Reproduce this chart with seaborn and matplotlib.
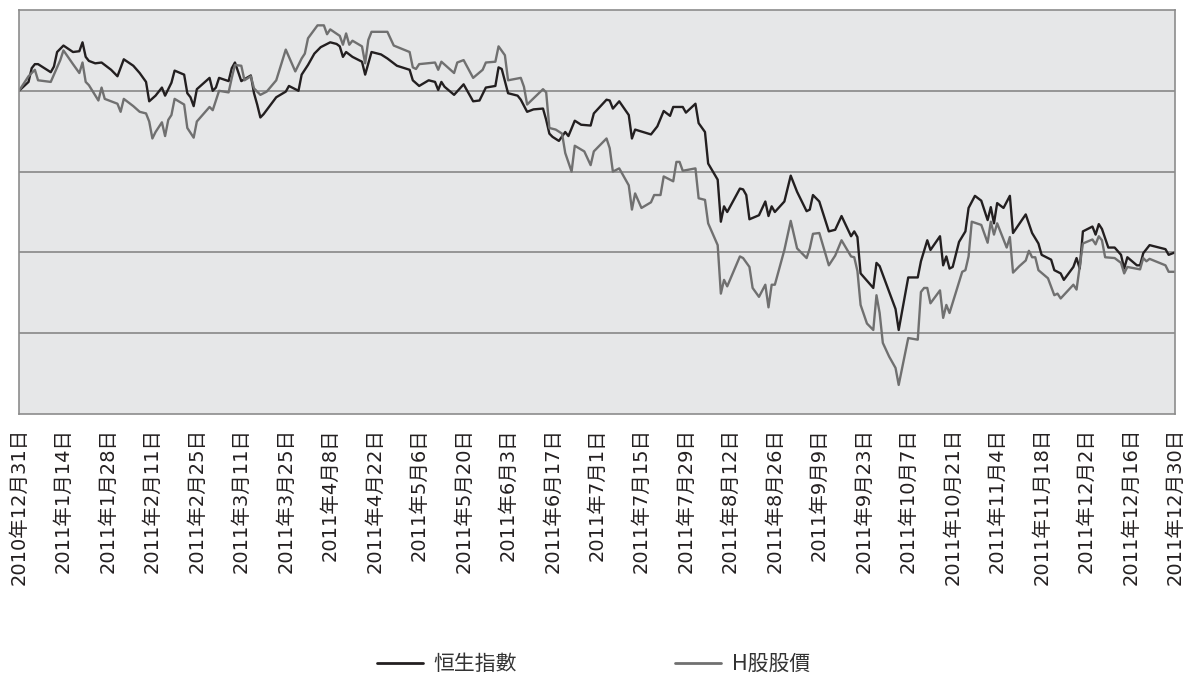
import matplotlib
matplotlib.use("Agg")
import matplotlib.pyplot as plt
from matplotlib.lines import Line2D
import seaborn as sns
import pandas as pd

# ---- data (index, 2010-12-31 = 100; x = calendar days since 2010-12-31) ----
hsi_days = [0, 3, 4, 5, 6, 10, 11, 12, 14, 17,
            19, 20, 21, 22, 24, 26, 29, 31, 33, 36,
            38, 40, 41, 43, 45, 46, 48, 49, 52, 53,
            54, 55, 56, 60, 61, 62, 63, 66, 67, 68,
            70, 73, 74, 75, 76, 77, 81, 84, 85, 88,
            89, 91, 93, 95, 96, 98, 100, 101, 102, 103,
            105, 108, 109, 111, 114, 116, 119, 123, 124, 126,
            129, 131, 132, 133, 134, 137, 140, 143, 145, 147,
            150, 151, 152, 154, 157, 158, 160, 162, 165, 166,
            167, 168, 170, 172, 173, 175, 177, 180, 181, 185,
            186, 187, 189, 192, 193, 194, 199, 201, 203, 205,
            206, 209, 210, 213, 214, 216, 217, 220, 221, 222,
            223, 227, 228, 229, 230, 233, 235, 236, 237, 238,
            241, 243, 245, 248, 249, 250, 252, 255, 257, 259,
            262, 263, 264, 265, 269, 270, 271, 276, 277, 280,
            283, 284, 286, 287, 290, 291, 292, 293, 294, 296,
            298, 299, 301, 303, 305, 306, 307, 308, 310, 312,
            313, 317, 319, 321, 322, 325, 326, 328, 329, 332,
            333, 334, 335, 338, 339, 340, 341, 343, 345, 347,
            348, 349, 352, 353, 354, 356, 361, 362, 364]
hsi_values = [100.0, 101.1, 102.8, 103.3, 103.3, 102.3, 103.0, 104.8, 105.6, 104.8,
              104.9, 106.0, 104.2, 103.7, 103.4, 103.5, 102.6, 101.8, 103.9, 103.1,
              102.2, 101.1, 98.7, 99.4, 100.4, 99.4, 101.0, 102.5, 102.0, 99.7,
              99.2, 98.1, 100.2, 101.6, 100.0, 100.4, 101.6, 101.2, 102.8, 103.5,
              101.2, 101.9, 99.7, 98.3, 96.7, 97.1, 99.2, 99.9, 100.6, 100.0,
              102.0, 103.2, 104.6, 105.4, 105.6, 106.0, 105.8, 105.5, 104.2, 104.8,
              104.2, 103.6, 102.0, 104.8, 104.5, 104.0, 103.1, 102.6, 101.3, 100.6,
              101.3, 101.1, 100.1, 101.1, 100.5, 99.5, 100.8, 98.7, 98.8, 100.4,
              100.6, 102.9, 102.7, 99.7, 99.4, 98.9, 97.4, 97.7, 97.8, 96.4,
              94.7, 94.3, 93.8, 94.9, 94.4, 96.3, 95.8, 95.7, 97.2, 98.9,
              98.8, 97.8, 98.7, 97.0, 94.1, 95.2, 94.6, 95.6, 97.5, 96.9,
              98.0, 98.0, 97.3, 98.4, 96.0, 94.9, 91.0, 89.0, 83.8, 85.7,
              85.0, 87.9, 87.8, 87.1, 84.1, 84.6, 86.3, 84.5, 85.7, 85.0,
              86.3, 89.5, 87.5, 85.1, 85.3, 87.1, 86.3, 82.6, 82.8, 84.5,
              82.0, 82.6, 81.9, 77.4, 75.6, 78.7, 78.3, 73.0, 70.4, 76.9,
              76.9, 78.9, 81.5, 80.3, 82.0, 78.4, 79.5, 78.0, 78.2, 81.3,
              82.6, 85.5, 87.0, 86.4, 84.0, 85.6, 83.6, 86.1, 85.5, 87.0,
              82.4, 84.7, 82.4, 81.1, 79.7, 79.1, 77.8, 77.4, 76.6, 78.2,
              79.3, 78.0, 82.6, 83.2, 82.2, 83.5, 82.9, 80.6, 80.6, 79.7,
              78.0, 79.4, 78.4, 78.4, 79.9, 80.9, 80.4, 79.7, 80.0]

hshare_days = [0, 3, 5, 6, 10, 11, 13, 14, 17, 19,
               20, 21, 22, 25, 26, 27, 31, 32, 33, 36,
               38, 40, 41, 42, 43, 45, 46, 47, 48, 49,
               52, 53, 55, 56, 60, 61, 62, 63, 66, 67,
               68, 70, 71, 73, 74, 76, 78, 81, 84, 87,
               89, 90, 91, 94, 96, 97, 98, 101, 102, 103,
               104, 105, 108, 109, 110, 111, 116, 118, 123, 124,
               125, 126, 131, 132, 133, 137, 138, 140, 143, 146,
               147, 150, 151, 153, 154, 158, 159, 160, 165, 166,
               167, 169, 171, 172, 174, 175, 178, 180, 181, 185,
               186, 187, 189, 192, 193, 194, 196, 199, 200, 202,
               203, 206, 207, 208, 209, 213, 214, 216, 217, 220,
               221, 222, 223, 227, 228, 230, 231, 233, 235, 236,
               237, 238, 241, 243, 245, 248, 249, 250, 252, 255,
               257, 259, 262, 263, 264, 265, 267, 269, 270, 271,
               272, 274, 276, 277, 280, 283, 284, 285, 286, 287,
               290, 291, 292, 293, 297, 298, 299, 300, 303, 305,
               306, 307, 308, 311, 312, 313, 315, 317, 318, 319,
               320, 321, 324, 326, 327, 328, 332, 333, 335, 338,
               339, 340, 341, 342, 345, 347, 348, 349, 353, 354,
               355, 356, 361, 362, 364]
hshare_values = [100.0, 101.8, 102.6, 101.3, 101.1, 102.0, 103.8, 105.0, 103.3, 102.2,
                 103.5, 101.1, 100.7, 98.8, 100.4, 99.0, 98.4, 97.4, 99.0, 98.1,
                 97.4, 97.2, 96.2, 94.1, 94.9, 96.1, 94.4, 96.4, 97.0, 99.0,
                 98.3, 95.4, 94.2, 96.2, 98.0, 97.6, 98.8, 100.0, 99.8, 101.6,
                 103.2, 103.1, 101.3, 101.8, 100.3, 99.5, 99.9, 101.3, 105.1, 102.4,
                 104.0, 104.6, 106.5, 108.1, 108.1, 107.0, 107.6, 106.8, 105.7, 107.1,
                 105.7, 106.2, 105.5, 103.4, 106.3, 107.3, 107.3, 105.6, 104.8, 102.9,
                 102.7, 103.3, 103.5, 102.6, 103.6, 102.2, 103.5, 103.8, 101.6, 102.6,
                 103.5, 103.6, 105.5, 104.4, 101.3, 101.6, 100.5, 98.3, 100.2, 99.8,
                 95.4, 95.2, 94.7, 92.3, 90.0, 93.2, 92.5, 90.8, 92.5, 94.1,
                 92.9, 90.0, 90.4, 88.3, 85.3, 87.3, 85.5, 86.2, 87.1, 87.1,
                 89.4, 88.8, 91.2, 91.2, 90.1, 90.4, 86.7, 86.5, 83.6, 80.9,
                 74.9, 76.6, 75.8, 79.5, 79.3, 78.2, 75.6, 74.5, 76.0, 73.2,
                 76.0, 76.0, 80.3, 83.9, 80.5, 79.3, 80.5, 82.3, 82.4, 78.4,
                 79.6, 81.5, 79.5, 79.4, 77.7, 73.5, 71.2, 70.4, 74.7, 72.5,
                 68.8, 67.1, 65.7, 63.6, 69.4, 69.2, 75.1, 75.6, 75.6, 73.7,
                 75.3, 71.9, 73.5, 72.5, 77.6, 77.8, 79.5, 83.8, 83.4, 81.2,
                 83.8, 82.2, 83.6, 80.6, 81.9, 77.5, 78.3, 79.0, 80.2, 79.4,
                 79.4, 77.8, 76.8, 74.7, 74.9, 74.3, 76.0, 75.4, 81.1, 81.6,
                 81.0, 82.0, 81.5, 79.4, 79.3, 78.7, 77.4, 78.2, 77.9, 79.3,
                 78.9, 79.2, 78.4, 77.6, 77.6]

series_names = ["恒生指數", "H股股價"]
tick_labels = ["2010年12月31日", "2011年1月14日", "2011年1月28日", "2011年2月11日",
               "2011年2月25日", "2011年3月11日", "2011年3月25日", "2011年4月8日",
               "2011年4月22日", "2011年5月6日", "2011年5月20日", "2011年6月3日",
               "2011年6月17日", "2011年7月1日", "2011年7月15日", "2011年7月29日",
               "2011年8月12日", "2011年8月26日", "2011年9月9日", "2011年9月23日",
               "2011年10月7日", "2011年10月21日", "2011年11月4日", "2011年11月18日",
               "2011年12月2日", "2011年12月16日", "2011年12月30日"]

# ---- style ----
sns.set_theme(style="white")
plt.rcParams['font.family'] = ['DejaVu Sans', 'Noto Sans CJK TC']

colors = {series_names[0]: "#231f20", series_names[1]: "#707070"}

df = pd.concat([
    pd.DataFrame({"day": hsi_days, "value": hsi_values, "series": series_names[0]}),
    pd.DataFrame({"day": hshare_days, "value": hshare_values, "series": series_names[1]}),
], ignore_index=True)

fig = plt.figure(figsize=(11.92, 6.8), dpi=100)
ax = fig.add_axes([19 / 1192, 1 - 414 / 680, (1175 - 19) / 1192, (414 - 10) / 680])
ax.set_facecolor("#e6e7e8")

sns.lineplot(data=df, x="day", y="value", hue="series", palette=colors,
             estimator=None, sort=False, linewidth=1.7, legend=False, ax=ax)

ax.set_xlim(0, 364)
ax.set_ylim(60, 110)
ax.set_yticks([70, 80, 90, 100])
ax.set_yticklabels([])
ax.tick_params(axis="y", length=0)
ax.yaxis.grid(True, color="#7f7f7f", linewidth=1.1)
ax.xaxis.grid(False)
ax.set_axisbelow(True)

ax.set_xticks([14 * i for i in range(len(tick_labels))])
ax.set_xticklabels(tick_labels, rotation=90, fontsize=14, color="#231f20")
ax.tick_params(axis="x", direction="in", length=5, width=1, color="#8c8c8c", pad=10)
ax.set_xlabel("")
ax.set_ylabel("")

for s in ax.spines.values():
    s.set_visible(True)
    s.set_color("#8c8c8c")
    s.set_linewidth(1.2)

handles = [Line2D([0], [0], color=colors[n], linewidth=2) for n in series_names]
fig.legend(handles, series_names, loc="center", bbox_to_anchor=(0.498, 1 - 664 / 680),
           ncol=2, frameon=False, fontsize=15, handlelength=2.2, handletextpad=0.5,
           columnspacing=7.6, labelcolor="#333333")

fig.savefig("out.png", dpi=100)
